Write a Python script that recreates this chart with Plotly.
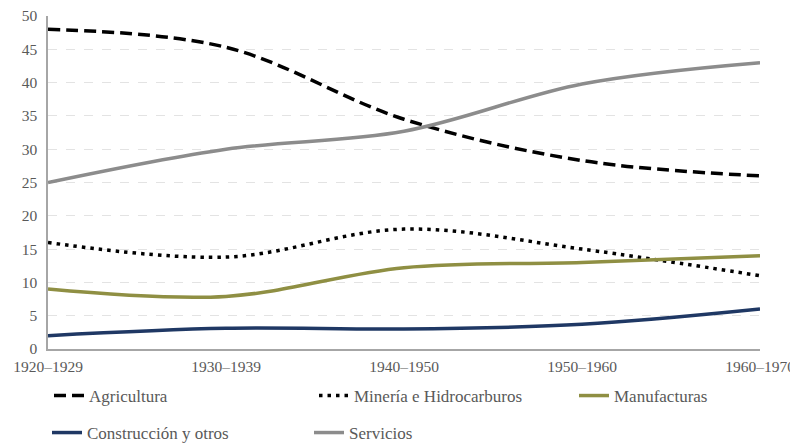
import plotly.graph_objects as go

categories = ["1920–1929", "1930–1939", "1940–1950", "1950–1960", "1960–1970"]
agricultura = [48, 45.3, 34.5, 28.3, 26]
mineria = [16, 13.8, 18, 15, 11]
manufacturas = [9, 7.9, 12.2, 13, 14]
construccion = [2, 3.1, 3, 3.7, 6]
servicios = [25, 30, 32.7, 39.8, 43]

# page body has an 8px margin, so the figure is sized to the visible area
W, H = 790, 438
fig = go.Figure()
series = [
    ("Agricultura", agricultura, dict(color="#000000", width=3.5, dash="12px,6px"), "legend", 41, 388),
    ("Minería e Hidrocarburos", mineria, dict(color="#000000", width=3.5, dash="3.5px,5px"), "legend2", 306, 388),
    ("Manufacturas", manufacturas, dict(color="#8f8f43", width=3.5), "legend3", 566, 388),
    ("Construcción y otros", construccion, dict(color="#1f3864", width=3.5), "legend4", 39, 425),
    ("Servicios", servicios, dict(color="#8c8c8c", width=3.5), "legend5", 301, 425),
]
font = dict(family="Liberation Serif, Times New Roman, serif", size=17, color="#595959")
tickfont = dict(font, size=15.5)
legends = {}
for name, vals, line, lg, lx, ly in series:
    line = dict(line, shape="spline", smoothing=1.0)
    fig.add_trace(go.Scatter(x=categories, y=vals, name=name, mode="lines",
                             line=line, legend=lg))
    legends[lg] = dict(orientation="h", xref="container", yref="container",
                       x=lx / W, y=1 - ly / H, xanchor="left", yanchor="middle",
                       font=font, bgcolor="rgba(0,0,0,0)")

fig.update_layout(
    width=W, height=H,
    margin=dict(l=40, r=38, t=8, b=97),
    paper_bgcolor="white", plot_bgcolor="white",
    font=font,
    xaxis=dict(type="category", showgrid=False, showline=True, linecolor="#a6a6a6",
               linewidth=1.5, ticks="", range=[0, 4], tickfont=tickfont,
               automargin=False, ticklabelstandoff=3, ticklabeloverflow="allow"),
    yaxis=dict(range=[0, 50], dtick=5, showgrid=True, gridcolor="#e3e3e3",
               griddash="dash", gridwidth=1, showline=True, linecolor="#a6a6a6",
               linewidth=1.5, ticks="", zeroline=False, tickfont=tickfont,
               automargin=False, ticklabelstandoff=6, ticklabeloverflow="allow"),
    showlegend=True,
    **legends,
)

fig.write_html("out.html")
